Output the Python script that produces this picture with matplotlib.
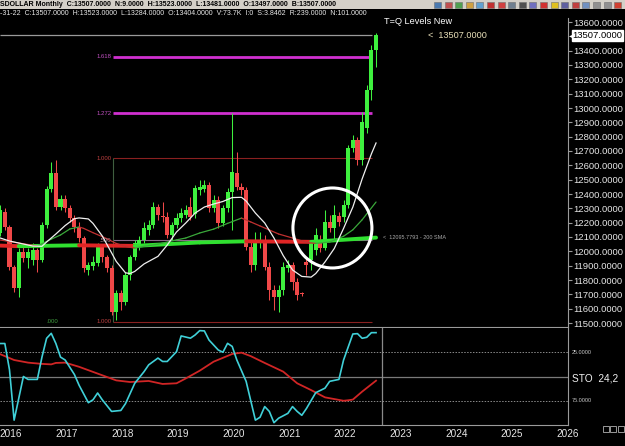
import matplotlib
matplotlib.use("Agg")
import matplotlib.pyplot as plt
from matplotlib.patches import Rectangle, Ellipse
from matplotlib import font_manager
from matplotlib.transforms import blended_transform_factory
import pandas as pd

# ---------------- data (monthly candles, Nov 2015 .. Aug 2022) ----------------
months = pd.period_range("2015-11", "2022-08", freq="M")

opens = [12128, 12274, 12170, 11891, 11744, 11995, 11953, 11939, 12009, 11939,
         12184, 12435, 12546, 12309, 12365, 12302, 12233, 12170, 12093, 11870,
         11898, 11919, 12030, 11960, 11884, 11577, 11709, 11646, 11835, 11960,
         12044, 12079, 12149, 12184, 12309, 12246, 12240, 12114, 12184, 12233,
         12253, 12309, 12260, 12428, 12435, 12463, 12302, 12358, 12198, 12302,
         12414, 12546, 12449, 12428, 12030, 11905, 12058, 12079, 11891, 11730,
         11681, 11730, 11884, 11905, 11786, 11709, 11926, 11939, 12009, 12079,
         12023, 12205, 12163, 12246, 12240, 12323, 12721, 12777, 12637, 12860,
         13126, 13404]
highs = [12323, 12302, 12184, 11905, 12023, 12037, 12023, 12058, 12023, 12205,
         12456, 12623, 12637, 12393, 12393, 12323, 12253, 12205, 12107, 11926,
         11967, 12058, 12044, 11974, 11905, 11730, 11730, 11856, 11974, 12079,
         12107, 12205, 12219, 12344, 12330, 12344, 12274, 12205, 12267, 12302,
         12323, 12379, 12463, 12498, 12498, 12484, 12393, 12386, 12323, 12442,
         12965, 12693, 12477, 12449, 12079, 12135, 12135, 12114, 11926, 11765,
         11765, 11926, 11939, 11926, 11814, 11716, 11953, 12079, 12163, 12114,
         12288, 12253, 12323, 12274, 12358, 12742, 12812, 12798, 12972, 13161,
         13440, 13523]
lows = [12107, 12149, 11870, 11716, 11681, 11926, 11884, 11905, 11856, 11926,
        12163, 12414, 12288, 12288, 12274, 12205, 12135, 12065, 11856, 11835,
        11870, 11898, 11926, 11856, 11556, 11521, 11591, 11626, 11800, 11939,
        12009, 12058, 12114, 12163, 12219, 12205, 12093, 12079, 12163, 12205,
        12233, 12219, 12233, 12393, 12414, 12274, 12274, 12163, 12177, 12274,
        12149, 12428, 12393, 12009, 11856, 11870, 12023, 11870, 11660, 11591,
        11577, 11695, 11856, 11730, 11660, 11688, 11835, 11870, 11974, 11995,
        12009, 12135, 12079, 12177, 12205, 12302, 12693, 12602, 12602, 12826,
        13056, 13284]
closes = [12288, 12170, 11891, 11744, 11995, 11953, 11995, 12009, 11939, 12184,
          12435, 12546, 12309, 12365, 12302, 12233, 12170, 12093, 11884, 11905,
          11926, 12030, 11960, 11884, 11577, 11709, 11646, 11835, 11960, 12058,
          12079, 12163, 12184, 12309, 12253, 12240, 12114, 12184, 12233, 12267,
          12288, 12240, 12442, 12449, 12463, 12302, 12358, 12198, 12302, 12414,
          12553, 12449, 12428, 12030, 11905, 12065, 12079, 11891, 11730, 11681,
          11730, 11891, 11905, 11786, 11695, 11702, 11905, 12058, 12114, 12023,
          12205, 12163, 12253, 12205, 12323, 12721, 12777, 12637, 12902, 13126,
          13405, 13507]

# fast moving average (white)
white_idx = [0, 2, 4, 7, 9, 10, 12, 14, 16, 17, 19, 20, 22, 24, 25, 27, 28, 29, 31, 34,
             36, 38, 40, 42, 44, 46, 48, 50, 52, 53, 55, 57, 59, 61, 63, 65, 67, 68, 70,
             72, 74, 76, 78, 80, 81]
white_val = [12093, 12072, 12058, 12037, 12035, 12065, 12121, 12180, 12228, 12233, 12226,
             12195, 12107, 11990, 11930, 11850, 11845, 11860, 11912, 11965, 12044, 12135,
             12198, 12267, 12309, 12330, 12348, 12375, 12377, 12351, 12267, 12198, 12093,
             11970, 11870, 11825, 11820, 11845, 11926, 12020, 12160, 12309, 12505, 12680,
             12756]
# medium moving average (slope coloured)
mid_idx = [0, 4, 8, 11, 13, 15, 17, 18, 20, 23, 25, 27, 29, 31, 34, 38, 40, 43, 46, 49,
           52, 54, 56, 58, 60, 63, 66, 68, 71, 74, 76, 78, 81]
mid_val = [12079, 12058, 12037, 12085, 12114, 12156, 12170, 12160, 12130, 12088, 12055,
           12035, 12022, 12035, 12050, 12080, 12093, 12128, 12155, 12195, 12232, 12205,
           12177, 12149, 12121, 12093, 12063, 12055, 12065, 12105, 12150, 12220, 12344]
# 200 SMA (thick, slope coloured)
sma200_idx = [0, 4, 17, 29, 43, 53, 67, 81]
sma200_val = [12040, 12036, 12042, 12038, 12062, 12070, 12066, 12095.78]

# stochastic
stok_idx = [0, 1, 2, 3, 5, 6, 8, 9, 10, 11, 12, 13, 14, 16, 17, 19, 20, 21, 22, 24, 26,
            27, 29, 31, 32, 34, 35, 36, 38, 39, 41, 42, 43, 44, 45, 47, 48, 49, 50, 51,
            53, 55, 56, 57, 58, 59, 60, 62, 63, 64, 65, 66, 68, 70, 71, 73, 74, 76, 77,
            78, 79, 80, 81]
stok_val = [16, 16, 43, 95, 50, 53, 53, 30, 10.6, 5.5, 16, 30, 33, 48, 59, 77, 74, 67, 74,
            86, 85, 78, 57, 45, 38, 31, 34.5, 34.5, 24.4, 8.2, 10.5, 7.2, 2.7, 3, 12.4, 22.7,
            25, 15.8, 19, 33, 55, 95, 92, 81, 86, 97.6, 93, 88, 81, 86, 90, 83, 66.7, 62,
            55, 53, 33, 6.2, 5.8, 10.6, 9.6, 4.8, 4.8]
stod_idx = [0, 3, 6, 9, 11, 12, 14, 17, 21, 25, 28, 32, 35, 38, 40, 43, 46, 50, 52, 54,
            57, 61, 64, 67, 70, 74, 75, 76, 78, 81]
stod_val = [27, 33, 35.7, 37, 37.5, 36, 35.7, 40, 47, 54, 55.7, 54.6, 57.7, 57, 52, 44,
            34.7, 26.8, 25.4, 29, 36, 45, 57, 64, 71.5, 75, 74.5, 73.8, 65.6, 54.3]

# Fibonacci tool
fib_start, fib_end = 24.3, 80.1
fib_low, fib_high = 11507, 12651
fib_levels = [1.618, 1.272, 1.0, 0.5, 0.0]
fib_labels = ["1.618", "1.272", "1.000", ".500", "1.000"]
price_ticks = list(range(11500, 13700, 100))
circle_idx, circle_price = 71.6, 12163

# ---------------- figure ----------------
W, H = 625, 446
fig = plt.figure(figsize=(W / 100, H / 100), dpi=100, facecolor="black")
avail = {f.name for f in font_manager.fontManager.ttflist}
NARROW = "Liberation Sans Narrow" if "Liberation Sans Narrow" in avail else "Liberation Sans"
SANS = "Liberation Sans"
plt.rcParams["font.family"] = [SANS, "DejaVu Sans"]


def fbox(x0, y0, x1, y1):
    return [x0 / W, 1 - y1 / H, (x1 - x0) / W, (y1 - y0) / H]


K0, DX = 0.2, 4.64
XLIM = (-K0 / DX, (568 - K0) / DX)
PPX = 2100 / 301.0  # price per pixel
YTOP = 13600 + (22 - 18) * PPX
YBOT = 11500 - (327 - 323) * PPX

GREEN = "#3ef03e"
RED = "#f04848"

# header bars
fig.patches.append(Rectangle((0, 1 - 9 / H), 1, 9 / H, transform=fig.transFigure,
                             facecolor="#d4d0c8", edgecolor="none"))
fig.text(0.5 / W, 1 - 4.6 / H,
         "SDOLLAR Monthly  C:13507.0000  N:9.0000  H:13523.0000  L:13481.0000  O:13497.0000  B:13507.0000",
         family=NARROW, weight="bold", fontsize=5.0, color="black", va="center", ha="left")
fig.text(0.5 / W, 1 - 13.2 / H,
         "-31-22  C:13507.0000  H:13523.0000  L:13284.0000  O:13404.0000  V:73.7K  I:0  S:3.8462  R:239.0000  N:101.0000",
         family=NARROW, fontsize=5.0, color="#e8e8e8", va="center", ha="left")
icon_cols = ["#4a7ab0", "#c05050", "#50a050", "#d0a040", "#60a0d0", "#c03030", "#d04040",
             "#708090", "#505050", "#7070c0", "#d03030", "#e0c020", "#6060a0", "#c04040",
             "#7090c0", "#909090", "#909090", "#d04030"]
for i, c in enumerate(icon_cols):
    x0 = 434 + i * 10.6
    fig.patches.append(Rectangle((x0 / W, 1 - 8 / H), 7 / W, 6.5 / H, transform=fig.transFigure,
                                 facecolor=c, edgecolor="#707070", lw=0.4))

# ---------------- main price panel ----------------
ax = fig.add_axes(fbox(0, 18, 568, 327), facecolor="black")
ax.set_xlim(*XLIM)
ax.set_ylim(YBOT, YTOP)

n = len(closes)
bw = 0.88
for i in range(n):
    o, h, l, c = opens[i], highs[i], lows[i], closes[i]
    col = GREEN if c >= o else RED
    ax.vlines(i, l, h, color=col, lw=0.75, zorder=3)
    ax.add_patch(Rectangle((i - bw / 2, min(o, c)), bw, max(abs(c - o), 9),
                           facecolor=col, edgecolor="none", zorder=4))

# fibonacci levels
fib_cols = {1.618: "#d030d0", 1.272: "#d030d0", 1.0: "#8a2020", 0.5: "#8a6a8a", 0.0: "#8a2020"}
fib_lw = {1.618: 2.0, 1.272: 2.0, 1.0: 0.8, 0.5: 0.8, 0.0: 0.8}
fib_lab_cols = {1.618: "#c050c0", 1.272: "#c050c0", 1.0: "#c04040", 0.5: "#b08090", 0.0: "#c04040"}
for lev, lab in zip(fib_levels, fib_labels):
    p = fib_low + lev * (fib_high - fib_low)
    ax.hlines(p, fib_start, fib_end, color=fib_cols[lev], lw=fib_lw[lev], zorder=2)
    ax.text(fib_start - 0.35, p, lab, color=fib_lab_cols[lev], fontsize=4.3,
            ha="right", va="center", zorder=6)
ax.vlines(fib_start, fib_low, fib_high, color="#3f5f3f", lw=0.8, zorder=2)
ax.text(11.2, fib_low, ".000", color="#40a040", fontsize=4.3, ha="center", va="center")

# last price line
ax.hlines(closes[-1], XLIM[0], fib_end, color="#9a9a9a", lw=0.9, zorder=2)


def slope_line(idx, val, lw, up_col, dn_col, z):
    for j in range(len(idx) - 1):
        col = up_col if val[j + 1] >= val[j] else dn_col
        ax.plot(idx[j:j + 2], val[j:j + 2], color=col, lw=lw, zorder=z,
                solid_capstyle="round")


slope_line(sma200_idx, sma200_val, 2.8, "#30e030", "#e02525", 5)
slope_line(mid_idx, mid_val, 0.9, "#3aa83a", "#c03030", 5)
ax.plot(white_idx, white_val, color="#f0f0f0", lw=0.9, zorder=6)

ax.add_patch(Ellipse((circle_idx, circle_price), 79 / DX, 80 * PPX, fill=False,
                     edgecolor="white", lw=2.2, zorder=8))

# annotations
ax.text(82.7, 13600 + 0.5 * PPX, "T=Q Levels New", color="white", fontsize=6.6,
        ha="left", va="center")
ax.text(92.2, closes[-1], "<  13507.0000", color="#e8dfb8", fontsize=6.6,
        ha="left", va="center")
ax.text(82.5, sma200_val[-1], "<  12095.7793 - 200 SMA", color="#a8a8a8", fontsize=4.0,
        ha="left", va="center")

# price axis
ax.yaxis.tick_right()
shown = [t for t in price_ticks if t != 13500]
ax.set_yticks(shown)
ax.set_yticklabels([f"{t:.4f}" for t in shown], family=SANS, fontsize=6.8, color="#e6e6e6")
ax.tick_params(axis="y", length=3, color="#9a9a9a", pad=0.6)
ax.set_xticks([])
for s in ["top", "left"]:
    ax.spines[s].set_visible(False)
ax.spines["right"].set_color("#9a9a9a")
ax.spines["bottom"].set_color("#9a9a9a")
ax.spines["right"].set_linewidth(0.8)
ax.spines["bottom"].set_linewidth(0.8)
bt = blended_transform_factory(ax.transAxes, ax.transData)
ax.text(1.0 + 4.5 / 568, closes[-1], "13507.0000", transform=bt, family=SANS, fontsize=6.8,
        color="black", ha="left", va="center", zorder=10,
        bbox=dict(boxstyle="square,pad=0.1", facecolor="white", edgecolor="white"))
ax.text(1.0 + 0.5 / 568, closes[-1], "\u25c2", transform=bt, fontsize=4.5, color="white",
        ha="left", va="center", family="DejaVu Sans")

# ---------------- stochastic panel ----------------
lo = fig.add_axes(fbox(0, 328, 568, 425), facecolor="black")
lo.set_xlim(*XLIM)
lo.set_ylim(100, 0)
lo.axhline(25, color="#8a8a8a", lw=0.7, ls=(0, (1.5, 1.5)))
lo.axhline(75, color="#8a8a8a", lw=0.7, ls=(0, (1.5, 1.5)))
lo.axhline(50, color="#7a7a7a", lw=0.9)
lo.axvline(82.3, color="#8a8a8a", lw=0.9)
lo.plot(stod_idx, stod_val, color="#d02525", lw=1.3)
lo.plot(stok_idx, stok_val, color="#40d0d8", lw=1.2)
lo.set_yticks([])
first = months[0]
year_pos, year_lab = [], []
for yr in range(2016, 2027):
    idx = (yr - first.year) * 12 + (1 - first.month)
    year_pos.append(idx + 0.3)
    year_lab.append(str(yr))
lo.set_xticks(year_pos)
lo.set_xticklabels(year_lab, family=SANS, fontsize=7.2, color="#e6e6e6")
lo.tick_params(axis="x", length=0, pad=3)
lo.spines["left"].set_visible(False)
lo.spines["top"].set_visible(False)
for s in ["right", "bottom"]:
    lo.spines[s].set_color("#9a9a9a")
    lo.spines[s].set_linewidth(0.8)
bl = blended_transform_factory(lo.transAxes, lo.transData)
lo.text(1.0 + 4 / 568, 25, "25.0000", transform=bl, fontsize=4.0, color="#c8c8c8",
        ha="left", va="center")
lo.text(1.0 + 4 / 568, 75, "75.0000", transform=bl, fontsize=4.0, color="#c8c8c8",
        ha="left", va="center")
lo.text(1.0 + 4 / 568, 52, "STO  24,2", transform=bl, fontsize=7.3, color="#f0f0f0",
        ha="left", va="center")

for i in range(3):
    fig.patches.append(Rectangle(((603 + i * 7.3) / W, 1 - 432 / H), 6 / W, 6 / H,
                                 transform=fig.transFigure, facecolor="black",
                                 edgecolor="#b0b0b0", lw=0.6))

fig.savefig("out.png", dpi=100, facecolor="black")
